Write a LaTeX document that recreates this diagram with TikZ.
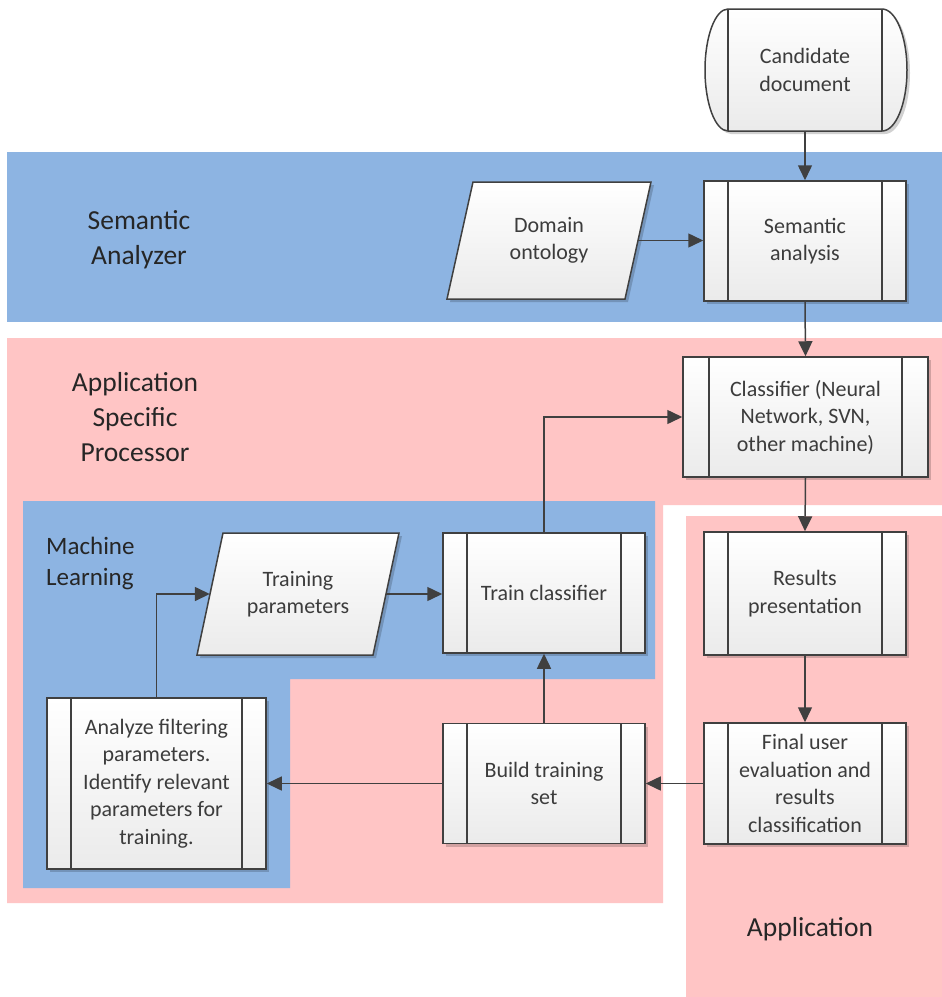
\documentclass[tikz,border=0pt]{standalone}
\usepackage{fontspec}
\setmainfont{Carlito}
\usetikzlibrary{arrows.meta,shadows}
\definecolor{bluebg}{RGB}{141,180,226}
\definecolor{pinkbg}{RGB}{255,197,197}
\definecolor{linec}{RGB}{64,64,64}
\definecolor{textc}{RGB}{60,60,60}
\definecolor{labelc}{RGB}{38,38,38}
\tikzset{
  shad/.style={drop shadow={shadow xshift=3pt,shadow yshift=-3pt,fill=black,opacity=0.18}},
  boxfill/.style={top color=white,bottom color=black!8,draw=linec,line width=1.5pt,shad},
  proc/.style={boxfill,minimum width=202pt,minimum height=120pt,inner sep=0pt,
    align=center,text=textc,font=\fontsize{22}{27.5}\selectfont,
    path picture={\draw[linec,line width=1.5pt]
      ([xshift=24pt]path picture bounding box.north west) -- ([xshift=24pt]path picture bounding box.south west)
      ([xshift=-24pt]path picture bounding box.north east) -- ([xshift=-24pt]path picture bounding box.south east);}},
  txtnode/.style={inner sep=0pt,align=center,text=textc,font=\fontsize{22}{27.5}\selectfont},
  biglabel/.style={inner sep=0pt,align=center,text=labelc,font=\fontsize{27.5}{35}\selectfont},
  conn/.style={draw=linec,line width=1.5pt,-{Triangle[length=15pt,width=14pt]}},
  plain/.style={draw=linec,line width=1.5pt}
}
\begin{document}
\begin{tikzpicture}[x=1pt,y=-1pt]
\useasboundingbox[fill=white] (0,0) rectangle (942,997);
% background regions
\fill[bluebg] (7,152) rectangle (942,322);
\fill[pinkbg] (7,338) -- (942,338) -- (942,505) -- (663,505) -- (663,903) -- (7,903) -- cycle;
\fill[pinkbg] (686,516) rectangle (942,997);
\fill[bluebg] (23,501) -- (655,501) -- (655,679) -- (290,679) -- (290,888) -- (23,888) -- cycle;
% region labels
\node[biglabel] (lsa) at (139,240) {Semantic\\Analyzer};
\node[biglabel] (lasp) at (135,417) {Application\\Specific\\Processor};
\node[inner sep=0pt,align=left,text=labelc,font=\fontsize{25}{31}\selectfont,anchor=west] (lml) at (46,563) {Machine\\Learning};
\node[biglabel] (lapp) at (810,929) {Application};
% candidate document (terminal)
\shade[boxfill] (728,9) -- (882,9) arc[start angle=-90,end angle=90,x radius=25,y radius=61]
  -- (728,131) arc[start angle=90,end angle=270,x radius=23,y radius=61] -- cycle;
\node[txtnode,minimum width=154pt,minimum height=122pt] (cd) at (805,70) {Candidate\\document};
\draw[plain] (cd.north west) -- (cd.south west) (cd.north east) -- (cd.south east);
% domain ontology (data)
\shade[boxfill] (473,182) -- (651,182) -- (625,299) -- (447,299) -- cycle;
\node[txtnode,minimum width=178pt,minimum height=117pt] (do) at (549,240.5) {Domain\\ontology};
% training parameters (data)
\shade[boxfill] (223,533) -- (399,533) -- (373,655) -- (197,655) -- cycle;
\node[txtnode,minimum width=176pt,minimum height=122pt] (tp) at (298,594) {Training\\parameters};
% processes
\node[proc] (sa) at (805,241) {Semantic\\analysis};
\node[proc,minimum width=245pt,path picture={\draw[linec,line width=1.5pt]
      ([xshift=26pt]path picture bounding box.north west) -- ([xshift=26pt]path picture bounding box.south west)
      ([xshift=-26pt]path picture bounding box.north east) -- ([xshift=-26pt]path picture bounding box.south east);}]
  (cl) at (805.5,417) {Classifier (Neural\\Network, SVN,\\other machine)};
\node[proc,minimum height=123pt] (rp) at (805,593.5) {Results\\presentation};
\node[proc,minimum height=121pt] (fu) at (805,783.5) {Final user\\evaluation and\\results\\classification};
\node[proc] (bt) at (544,783.5) {Build training\\set};
\node[proc] (tc) at (544,593) {Train classifier};
\node[proc,minimum width=219pt,minimum height=171pt] (an) at (156.5,783.5) {Analyze filtering\\parameters.\\Identify relevant\\parameters for\\training.};
% connectors
\draw[conn] (cd.south) -- (sa.north);
\draw[conn] (do.east) -- (sa.west |- do.east);
\draw[conn] (sa.south) -- (cl.north);
\draw[conn] (cl.south) -- (rp.north);
\draw[conn] (rp.south) -- (fu.north);
\draw[conn] (fu.west) -- (bt.east);
\draw[conn] (bt.west) -- (an.east);
\draw[conn] (bt.north) -- (tc.south);
\draw[conn] (tp.east) -- (tc.west |- tp.east);
\draw[conn] (an.north) |- (tp.west);
\draw[conn] (tc.north) |- (cl.west);
\end{tikzpicture}
\end{document}
